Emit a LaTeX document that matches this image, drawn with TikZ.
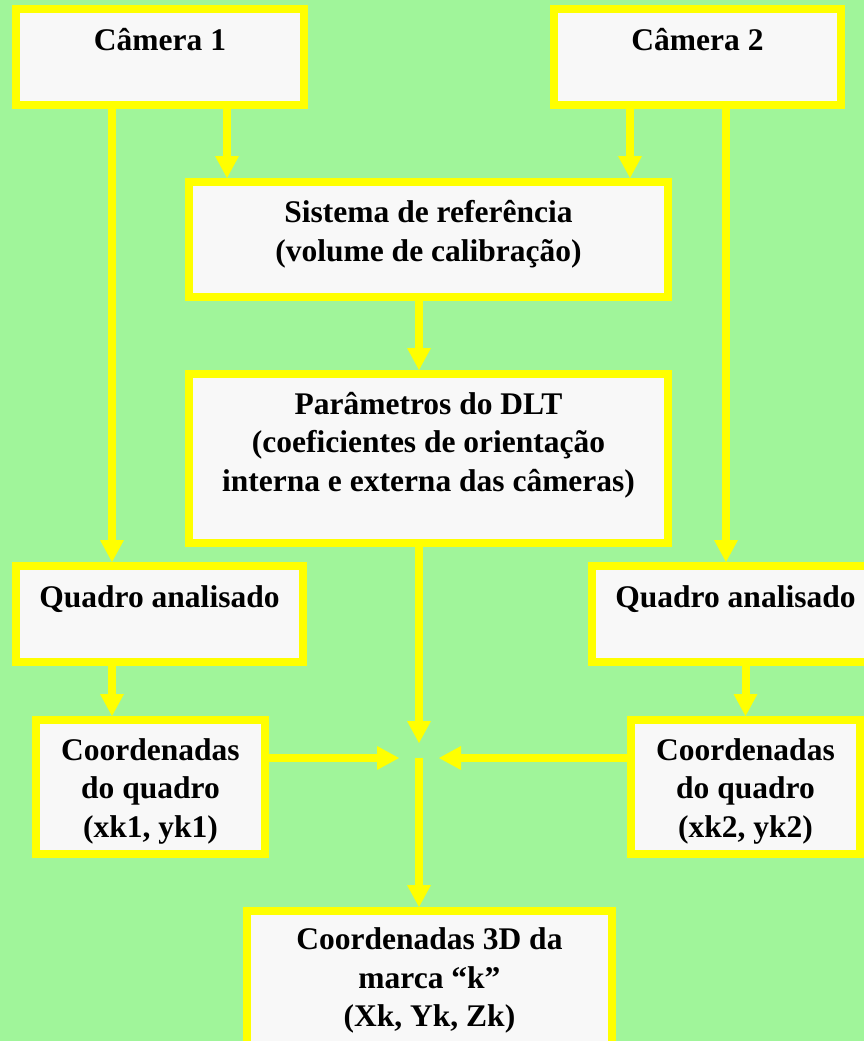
\documentclass[tikz,border=0pt]{standalone}
\usepackage{fontspec}
\setmainfont{Liberation Serif}
\usetikzlibrary{arrows.meta}
\definecolor{bggreen}{RGB}{160,245,154}
\definecolor{boxyellow}{RGB}{255,255,0}
\definecolor{boxfill}{RGB}{248,248,248}
\begin{document}
\begin{tikzpicture}[x=1pt,y=-1pt,
  box/.style={draw=boxyellow,line width=8pt,fill=boxfill,rectangle,inner sep=0pt,outer sep=4pt},
  txt/.style={anchor=base,align=center,inner sep=0pt,font=\bfseries\fontsize{31.5}{38.3}\selectfont},
  arr/.style={draw=boxyellow,line width=8pt,-{Triangle[width=24pt,length=22pt,line width=0pt]}}]
\useasboundingbox (0,0) rectangle (864,1041);
\fill[bggreen] (0,0) rectangle (864,1041);
% boxes (centerline sizes)
\node[box,minimum width=288pt,minimum height=96pt] (cam1) at (160,57) {};
\node[box,minimum width=287pt,minimum height=96pt] (cam2) at (697.5,57) {};
\node[box,minimum width=479pt,minimum height=115pt] (sis) at (428.5,239.5) {};
\node[box,minimum width=479pt,minimum height=169pt] (par) at (428.5,458.5) {};
\node[box,minimum width=287pt,minimum height=96pt] (q1) at (159.5,614) {};
\node[box,minimum width=287pt,minimum height=96pt] (q2) at (735.5,614) {};
\node[box,minimum width=229pt,minimum height=134pt] (c1) at (150.5,787) {};
\node[box,minimum width=229pt,minimum height=134pt] (c2) at (745.5,787) {};
\node[box,minimum width=365pt,minimum height=200pt] (c3) at (429.5,1011) {};
% texts (anchor base = baseline of the last line)
\node[txt] (tcam1) at ([yshift=-46pt]cam1.north) {Câmera 1};
\node[txt] (tcam2) at ([yshift=-45.5pt]cam2.north) {Câmera 2};
\node[txt] (tsis) at ([yshift=-83pt]sis.north) {Sistema de referência\\(volume de calibração)};
\node[txt] (tpar) at ([yshift=-121pt]par.north) {Parâmetros do DLT\\(coeficientes de orientação\\interna e externa das câmeras)};
\node[txt] (tq1) at ([yshift=-45pt]q1.north) {Quadro analisado};
\node[txt] (tq2) at ([yshift=-45pt]q2.north) {Quadro analisado};
\node[txt] (tc1) at ([yshift=-121pt]c1.north) {Coordenadas\\do quadro\\(xk1, yk1)};
\node[txt] (tc2) at ([yshift=-121pt]c2.north) {Coordenadas\\do quadro\\(xk2, yk2)};
\node[txt] (tc3) at ([yshift=-119.5pt]c3.north) {Coordenadas 3D da\\marca “k”\\(Xk, Yk, Zk)};
% junction
\coordinate (j) at (419,758);
% connectors
\draw[arr] ([xshift=-48pt]cam1.south) -- ([xshift=-48pt]cam1.south |- q1.north);
\draw[arr] ([xshift=67pt]cam1.south) -- ([xshift=67pt]cam1.south |- sis.north);
\draw[arr] ([xshift=-67.5pt]cam2.south) -- ([xshift=-67.5pt]cam2.south |- sis.north);
\draw[arr] ([xshift=28.5pt]cam2.south) -- ([xshift=28.5pt]cam2.south |- q2.north);
\draw[arr] (j |- sis.south) -- (j |- par.north);
\draw[arr] ([xshift=-38.5pt]c1.north |- q1.south) -- ([xshift=-38.5pt]c1.north);
\draw[arr] (c2.north |- q2.south) -- (c2.north);
\draw[arr,shorten >=15pt] (j |- par.south) -- (j);
\draw[arr,shorten >=20pt] (c1.east |- j) -- (j);
\draw[arr,shorten >=20pt] (c2.west |- j) -- (j);
\draw[arr] (j) -- (j |- c3.north);
\end{tikzpicture}
\end{document}
